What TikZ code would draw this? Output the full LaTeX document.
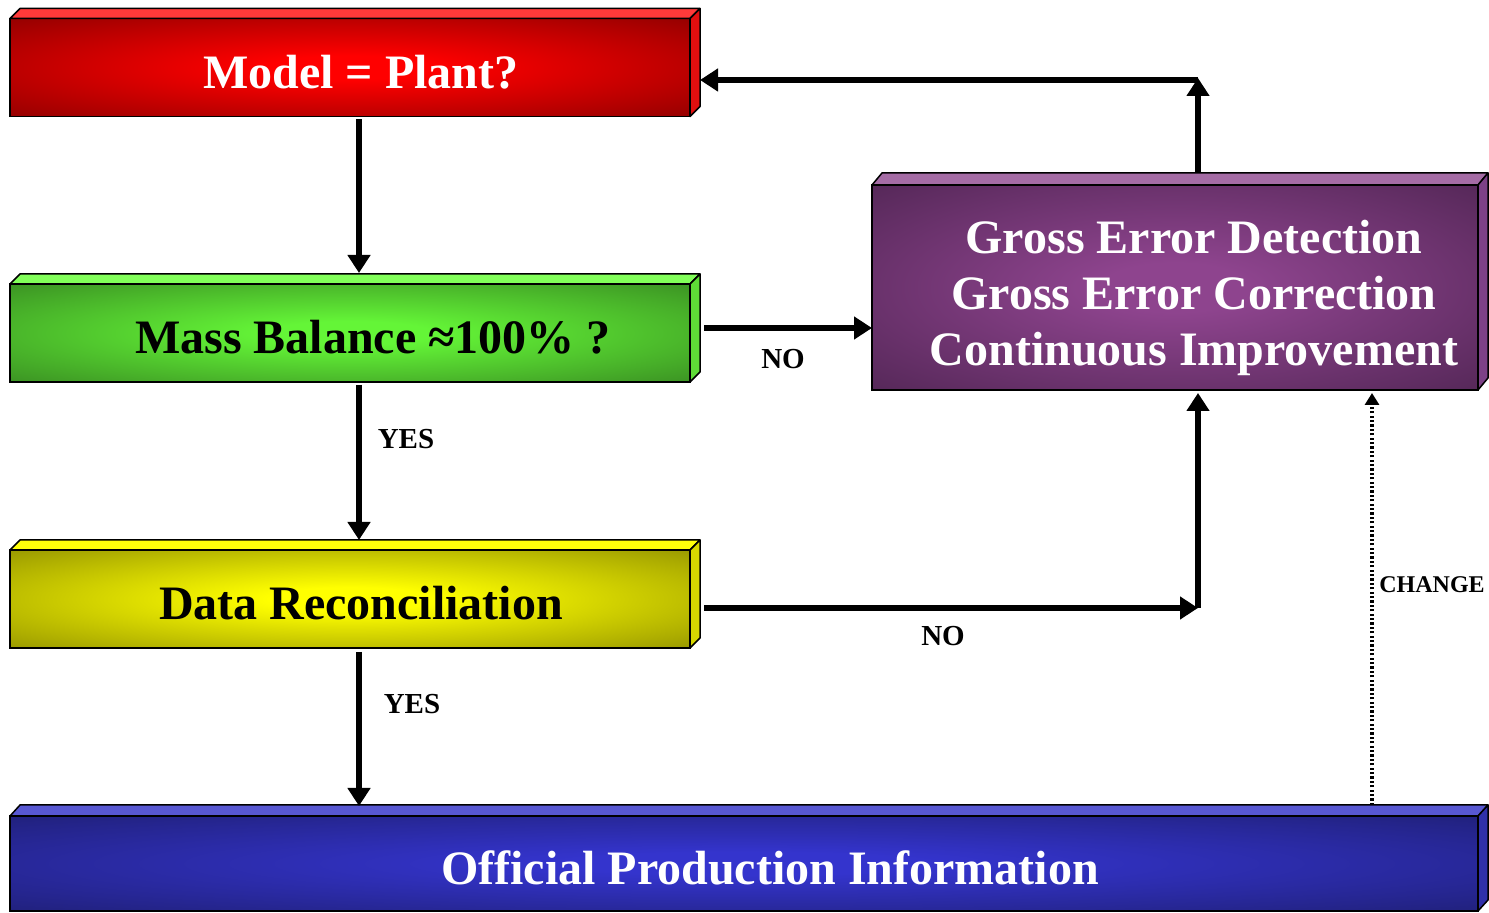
\documentclass[tikz,border=0pt]{standalone}
\usepackage{fontspec}
\setmainfont{Liberation Serif}
\usetikzlibrary{arrows.meta, positioning}

% face colours of the boxes
\definecolor{modelin}{RGB}{255,0,0}
\definecolor{modelout}{RGB}{112,0,0}
\definecolor{modeltop}{RGB}{255,58,58}
\definecolor{modelside}{RGB}{225,15,15}
\definecolor{massin}{RGB}{100,245,55}
\definecolor{massout}{RGB}{45,112,28}
\definecolor{masstop}{RGB}{130,255,90}
\definecolor{massside}{RGB}{95,220,55}
\definecolor{datain}{RGB}{255,255,0}
\definecolor{dataout}{RGB}{118,118,0}
\definecolor{datatop}{RGB}{255,255,10}
\definecolor{dataside}{RGB}{215,215,0}
\definecolor{grossin}{RGB}{142,68,142}
\definecolor{grossout}{RGB}{66,30,70}
\definecolor{grosstop}{RGB}{165,108,165}
\definecolor{grossside}{RGB}{125,65,135}
\definecolor{offin}{RGB}{52,52,205}
\definecolor{offout}{RGB}{26,26,96}
\definecolor{offtop}{RGB}{88,88,210}
\definecolor{offside}{RGB}{48,48,170}

\colorlet{glowin}{white}
\colorlet{glowout}{black}
\pgfdeclareradialshading[glowin,glowout]{glow}{\pgfpointorigin}{color(0bp)=(glowin); color(6bp)=(glowin); color(46bp)=(glowout); color(50bp)=(glowout)}

\begin{document}
\begin{tikzpicture}[
        x=0.5pt, y=-0.5pt,
        glow in/.code={\colorlet{glowin}{#1}},
        glow out/.code={\colorlet{glowout}{#1}},
        box/.style={rectangle, draw=black, line width=0.75pt, inner sep=0pt, outer sep=0pt, shade, shading=glow, align=center, font=\fontsize{24pt}{28pt}\selectfont\bfseries},
        oneline/.style={minimum width=340pt, minimum height=49pt, text height=21pt, text depth=0pt},
        face/.style={draw=black, line width=0.75pt, line join=round},
        flow/.style={line width=2.8pt, -{Triangle[length=9pt,width=11pt]}},
        change/.style={line width=1.6pt, dash pattern=on 1.1pt off 1.1pt, -{Triangle[length=6pt,width=7pt]}},
        answer/.style={font=\fontsize{14.5pt}{17pt}\selectfont\bfseries},
        small/.style={font=\fontsize{12pt}{14pt}\selectfont\bfseries}
    ]
        \useasboundingbox (0,0) rectangle (1489,913);

        % Boxes
        \node (model) [box, oneline, glow in=modelin, glow out=modelout, text=white] at (350,67.5) {\hspace*{11pt}Model = Plant?};
        \node (mass) [box, oneline, glow in=massin, glow out=massout] at (350,333) {\hspace*{23pt}Mass Balance ≈100\% ?};
        \node (data) [box, oneline, glow in=datain, glow out=dataout] at (350,599) {\hspace*{11pt}Data Reconciliation};
        \node (gross) [box, minimum width=303pt, minimum height=102.5pt, glow in=grossin, glow out=grossout, text=white] at (1175,287.5) {\rule{0pt}{27pt}\hspace*{19pt}Gross Error Detection\\\hspace*{19pt}Gross Error Correction\\\hspace*{19pt}Continuous Improvement};
        \node (official) [box, minimum width=734pt, minimum height=47.5pt, text height=21pt, text depth=0pt, glow in=offin, glow out=offout, text=white] at (744,863.5) {\hspace*{26pt}Official Production Information};

        % 3D faces
        \filldraw [face, fill=modeltop] (model.north west) -- ++(10,-10) -- ([shift={(10,-10)}]model.north east) -- (model.north east) -- cycle;
        \filldraw [face, fill=modelside] (model.north east) -- ++(10,-10) -- ([shift={(10,-10)}]model.south east) -- (model.south east) -- cycle;
        \filldraw [face, fill=masstop] (mass.north west) -- ++(10,-10) -- ([shift={(10,-10)}]mass.north east) -- (mass.north east) -- cycle;
        \filldraw [face, fill=massside] (mass.north east) -- ++(10,-10) -- ([shift={(10,-10)}]mass.south east) -- (mass.south east) -- cycle;
        \filldraw [face, fill=datatop] (data.north west) -- ++(10,-10) -- ([shift={(10,-10)}]data.north east) -- (data.north east) -- cycle;
        \filldraw [face, fill=dataside] (data.north east) -- ++(10,-10) -- ([shift={(10,-10)}]data.south east) -- (data.south east) -- cycle;
        \filldraw [face, fill=grosstop] (gross.north west) -- ++(10,-12) -- ([shift={(10,-12)}]gross.north east) -- (gross.north east) -- cycle;
        \filldraw [face, fill=grossside] (gross.north east) -- ++(10,-12) -- ([shift={(10,-12)}]gross.south east) -- (gross.south east) -- cycle;
        \filldraw [face, fill=offtop] (official.north west) -- ++(10,-11) -- ([shift={(10,-11)}]official.north east) -- (official.north east) -- cycle;
        \filldraw [face, fill=offside] (official.north east) -- ++(10,-11) -- ([shift={(10,-11)}]official.south east) -- (official.south east) -- cycle;

        % Turning points
        \coordinate (turn) at (1198,608);
        \coordinate (corner) at (1198,78);

        % Labels
        \node (yes1) [answer] at (406,439) {YES};
        \node (yes2) [answer] at (412,704) {YES};
        \node (no1) [answer] at (783,359) {NO};
        \node (no2) [answer] at (943,636) {NO};
        \node (changelbl) [small] at (1432,585) {CHANGE};

        % Arrows down the left column
        \draw [flow] ([shift={(9,3)}]model.south) -- ([shift={(9,-11)}]mass.north);
        \draw [flow] ([shift={(9,3)}]mass.south) -- ([shift={(9,-10)}]data.north);
        \draw [flow] ([shift={(9,4)}]data.south) -- ([shift={(-385,-10)}]official.north);

        % NO branches
        \draw [flow] ([shift={(14,-5)}]mass.east) -- ([yshift=-20.25pt]gross.west);
        \draw [flow] ([shift={(14,9)}]data.east) -- (turn);
        \draw [flow] (turn) -- ([yshift=-1.5pt]turn |- gross.south);

        % Back to the model
        \draw [flow] ([shift={(23,-12)}]gross.north) -- (corner);
        \draw [flow] ([yshift=-1pt]corner) -- ([shift={(10,12.5)}]model.east);

        % Change
        \draw [change] ([shift={(628,-11)}]official.north) -- ([shift={(197,3)}]gross.south);

    \end{tikzpicture}
\end{document}
